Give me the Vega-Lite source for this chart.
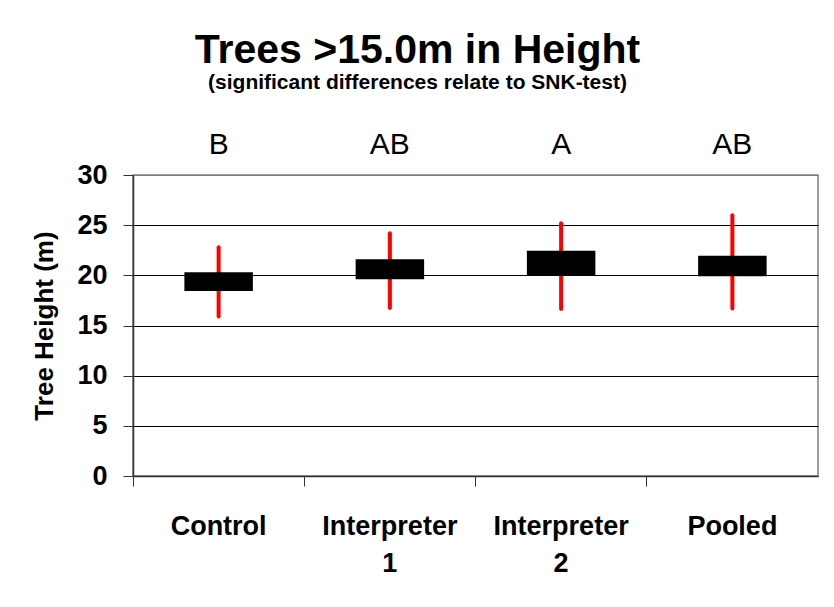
{
  "$schema": "https://vega.github.io/schema/vega-lite/v6.json",
  "autosize": "none",
  "width": 685,
  "height": 301,
  "padding": {"left": 133, "top": 175, "right": 16, "bottom": 131},
  "background": "white",
  "title": {
    "text": "Trees >15.0m in Height",
    "subtitle": "(significant differences relate to SNK-test)",
    "anchor": "middle",
    "dx": -58,
    "offset": 36,
    "font": "Liberation Sans",
    "fontSize": 41,
    "fontWeight": "bold",
    "color": "black",
    "subtitleFont": "Liberation Sans",
    "subtitleFontSize": 21,
    "subtitleFontWeight": "bold",
    "subtitleColor": "black",
    "subtitlePadding": 0
  },
  "config": {
    "view": {"stroke": "#808080", "strokeWidth": 1.5},
    "font": "Liberation Sans"
  },
  "data": {
    "values": [
      {"group": "Control", "low": 15.9, "q1": 18.45, "q3": 20.3, "high": 22.8, "letter": "B"},
      {"group": "Interpreter 1", "low": 16.75, "q1": 19.6, "q3": 21.6, "high": 24.2, "letter": "AB"},
      {"group": "Interpreter 2", "low": 16.65, "q1": 19.95, "q3": 22.45, "high": 25.2, "letter": "A"},
      {"group": "Pooled", "low": 16.7, "q1": 19.9, "q3": 21.95, "high": 26.0, "letter": "AB"}
    ]
  },
  "encoding": {
    "x": {
      "field": "group",
      "type": "nominal",
      "sort": null,
      "scale": {"paddingInner": 0, "paddingOuter": 0},
      "axis": {
        "title": null,
        "bandPosition": 0,
        "labelAngle": 0,
        "labelExpr": "split(datum.label, ' ')",
        "labelFont": "Liberation Sans",
        "labelFontSize": 27,
        "labelFontWeight": "bold",
        "labelColor": "black",
        "labelLineHeight": 37,
        "labelPadding": 27,
        "tickSize": 10,
        "tickColor": "#333333",
        "domainColor": "#333333",
        "domainWidth": 1.5,
        "grid": false
      }
    }
  },
  "layer": [
    {
      "mark": {"type": "rule", "color": "#FF0000", "strokeWidth": 4, "strokeCap": "round"},
      "encoding": {
        "y": {
          "field": "low",
          "type": "quantitative",
          "scale": {"domain": [0, 30], "nice": false},
          "axis": {
            "title": "Tree Height (m)",
            "titleFont": "Liberation Sans",
            "titleFontSize": 26,
            "titleFontWeight": "bold",
            "titleColor": "black",
            "titlePadding": 19,
            "values": [0, 5, 10, 15, 20, 25, 30],
            "labelFont": "Liberation Sans",
            "labelFontSize": 27,
            "labelFontWeight": "bold",
            "labelColor": "black",
            "labelPadding": 16,
            "tickSize": 10,
            "tickColor": "#333333",
            "domainColor": "#333333",
            "domainWidth": 1.5,
            "grid": true,
            "gridColor": {"condition": {"test": "datum.value == 30", "value": "#808080"}, "value": "black"},
            "gridWidth": 1
          }
        },
        "y2": {"field": "high"}
      }
    },
    {
      "mark": {"type": "bar", "color": "black", "width": {"band": 0.4}},
      "encoding": {
        "y": {"field": "q1", "type": "quantitative"},
        "y2": {"field": "q3"}
      }
    },
    {
      "mark": {"type": "text", "fontSize": 30, "font": "Liberation Sans", "color": "black", "baseline": "alphabetic", "dy": -21},
      "encoding": {
        "y": {"datum": 30},
        "text": {"field": "letter"}
      }
    }
  ]
}
